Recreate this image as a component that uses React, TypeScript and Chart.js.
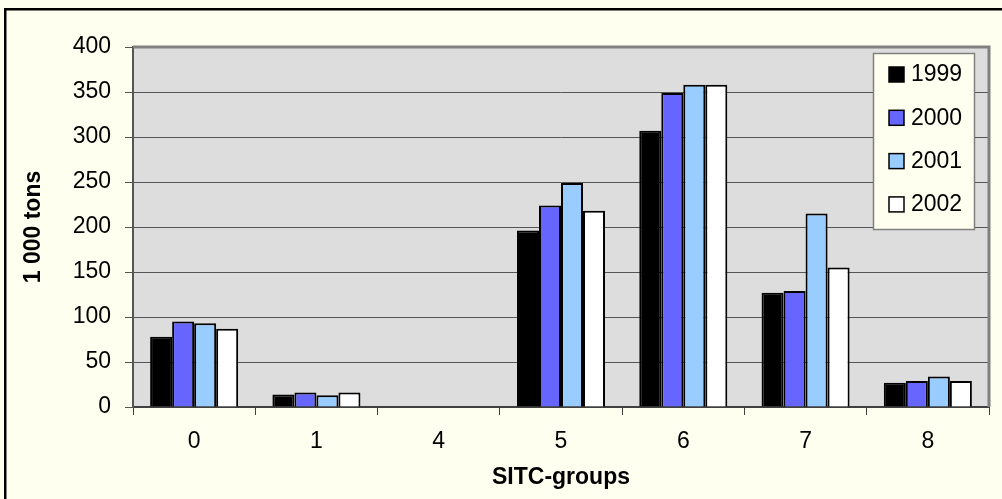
import React, { useEffect, useRef } from "react";
import { Chart, registerables } from "chart.js";

Chart.register(...registerables);

const categories = ["0", "1", "4", "5", "6", "7", "8"];
const seriesLabels = ["1999", "2000", "2001", "2002"];
const values1999 = [78, 14, null, 196, 307, 127, 27];
const values2000 = [95, 16, null, 224, 349, 129, 29];
const values2001 = [93, 13, null, 249, 358, 215, 34];
const values2002 = [87, 16, null, 218, 358, 155, 29];
const seriesColors = ["#000000", "#6666FF", "#99CCFF", "#FFFFFF"];
const yTicks = [0, 50, 100, 150, 200, 250, 300, 350, 400];

const FONT = "'Liberation Sans', Arial, sans-serif";

const backgroundPlugin = {
  id: "bgPlugin",
  beforeDraw(chart: any) {
    const { ctx, chartArea } = chart;
    ctx.save();
    ctx.fillStyle = "#FFFFF0";
    ctx.fillRect(0, 0, chart.width, chart.height);
    ctx.strokeStyle = "#000000";
    ctx.lineWidth = 2.5;
    ctx.strokeRect(5.25, 9.25, chart.width + 50, chart.height + 50);
    ctx.fillStyle = "#DDDDDD";
    ctx.fillRect(chartArea.left, chartArea.top, chartArea.right - chartArea.left, chartArea.bottom - chartArea.top);
    ctx.restore();
  },
  afterDatasetsDraw(chart: any) {
    const { ctx, chartArea } = chart;
    ctx.save();
    // top/right plot border
    ctx.strokeStyle = "#808080";
    ctx.lineWidth = 3;
    ctx.beginPath();
    ctx.moveTo(chartArea.left, chartArea.top);
    ctx.lineTo(chartArea.right, chartArea.top);
    ctx.lineTo(chartArea.right, chartArea.bottom);
    ctx.stroke();

    // legend
    const bx = 873, by = 53, bw = 101, bh = 176;
    ctx.fillStyle = "#FFFFF0";
    ctx.fillRect(bx, by, bw, bh);
    ctx.strokeStyle = "#808080";
    ctx.lineWidth = 1.5;
    ctx.strokeRect(bx + 0.5, by + 0.5, bw, bh);
    const ds = chart.data.datasets;
    ctx.font = `23px ${FONT}`;
    ctx.textBaseline = "middle";
    ctx.textAlign = "left";
    for (let i = 0; i < ds.length; i++) {
      const cy = 74 + i * 43.3;
      ctx.fillStyle = ds[i].backgroundColor;
      ctx.fillRect(889, cy - 7, 15, 15);
      ctx.strokeStyle = "#000";
      ctx.lineWidth = 1.5;
      ctx.strokeRect(889, cy - 7, 15, 15);
      ctx.fillStyle = "#000";
      ctx.fillText(ds[i].label, 911, cy + 1);
    }
    ctx.restore();
  },
};

export default function App() {
  const ref = useRef<HTMLCanvasElement | null>(null);

  useEffect(() => {
    if (!ref.current) return;
    const allSeries = [values1999, values2000, values2001, values2002];
    const chart = new Chart(ref.current, {
      type: "bar",
      data: {
        labels: categories,
        datasets: allSeries.map((vals, i) => ({
          label: seriesLabels[i],
          data: vals,
          backgroundColor: seriesColors[i],
          borderColor: "#000000",
          borderWidth: 2,
          barPercentage: 1,
          categoryPercentage: 0.72,
        })),
      },
      options: {
        animation: false,
        responsive: false,
        maintainAspectRatio: false,
        devicePixelRatio: 1,
        layout: { padding: { left: 0, top: 47, right: 13, bottom: 0 } },
        plugins: {
          legend: { display: false },
          tooltip: { enabled: false },
          title: { display: false },
        },
        scales: {
          x: {
            grid: {
              display: true,
              drawOnChartArea: false,
              drawTicks: true,
              tickLength: 8,
              color: "#404040",
              lineWidth: 1,
              offset: true,
            },
            border: { display: true, color: "#404040", width: 2 },
            ticks: {
              color: "#000",
              font: { family: FONT, size: 23 },
              padding: 13,
            },
            title: {
              display: true,
              text: "SITC-groups",
              color: "#000",
              font: { family: FONT, size: 23, weight: "bold" },
              padding: { top: 0, bottom: 8 },
            },
            afterFit(scale: any) {
              scale.height = 92;
            },
          },
          y: {
            min: 0,
            max: 400,
            afterBuildTicks(scale: any) {
              scale.ticks = yTicks.map((v) => ({ value: v }));
            },
            grid: {
              display: true,
              drawOnChartArea: true,
              drawTicks: true,
              tickLength: 8,
              color: "#555555",
              lineWidth: 1,
            },
            border: { display: true, color: "#555555", width: 2 },
            ticks: {
              color: "#000",
              font: { family: FONT, size: 23 },
              padding: 14,
            },
            title: {
              display: true,
              text: "1 000 tons",
              color: "#000",
              font: { family: FONT, size: 23, weight: "bold" },
              padding: { top: 20, bottom: 0 },
            },
            afterFit(scale: any) {
              scale.width = 133;
            },
          },
        },
      },
      plugins: [backgroundPlugin],
    });
    return () => chart.destroy();
  }, []);

  return (
    <div style={{ position: "absolute", left: 0, top: 0, width: 1002, height: 499 }}>
      <canvas ref={ref} width={1002} height={499} style={{ display: "block", width: 1002, height: 499 }} />
    </div>
  );
}
